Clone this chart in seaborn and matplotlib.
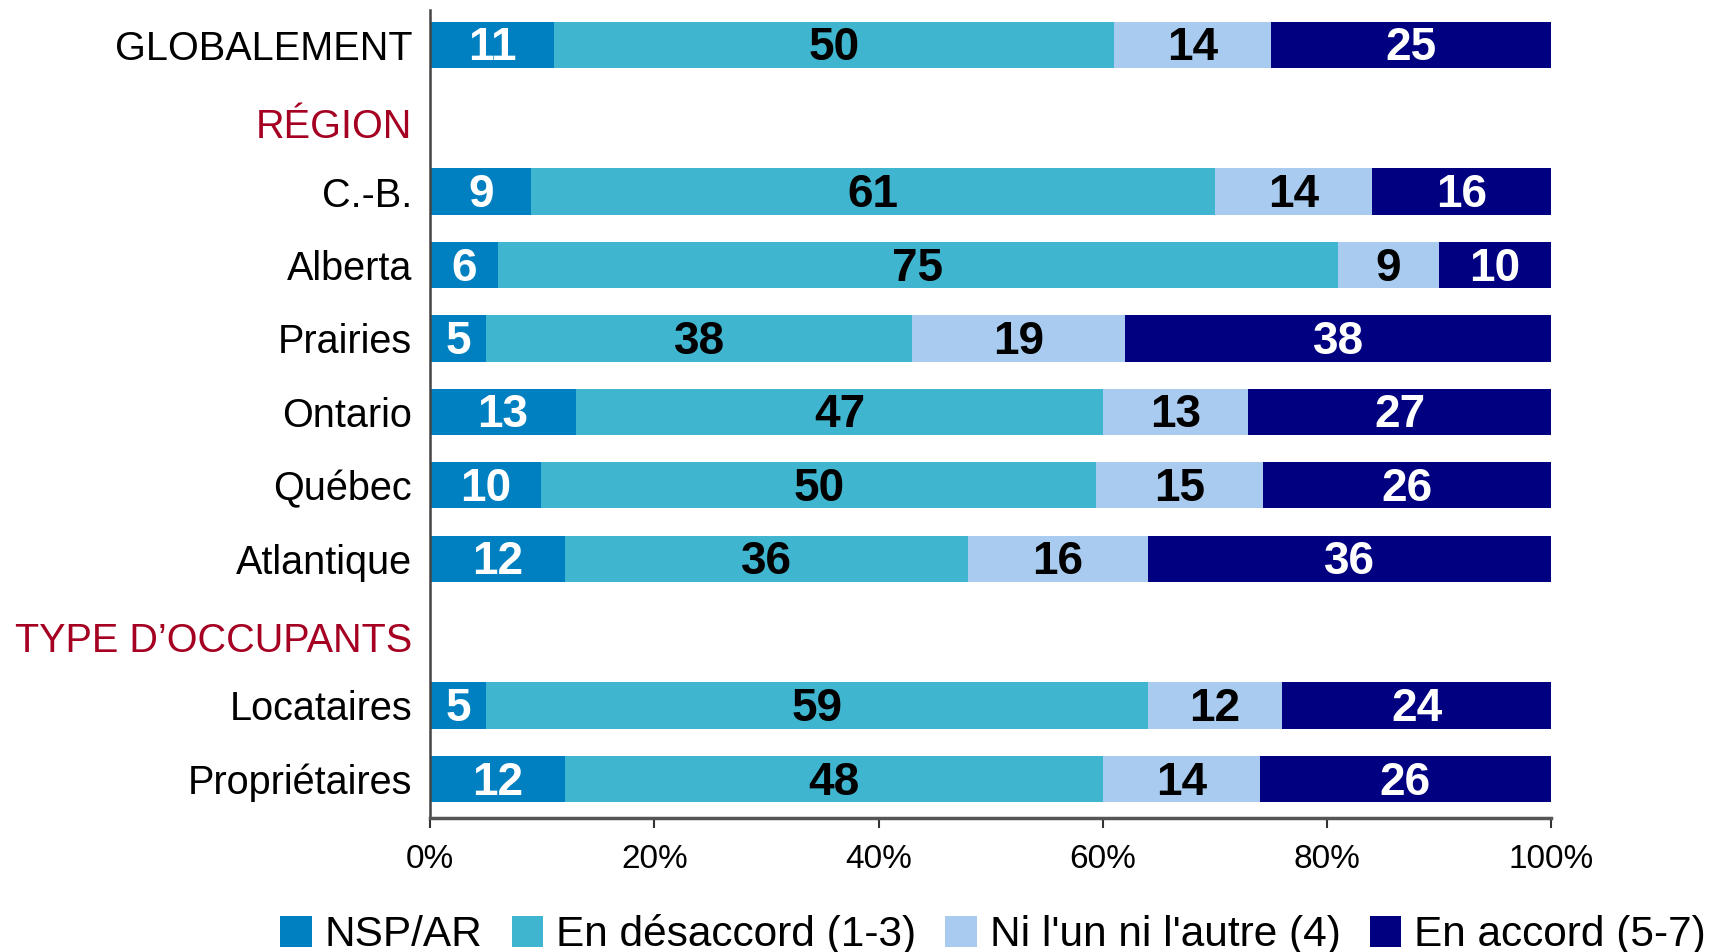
import numpy as np
import pandas as pd
import matplotlib.pyplot as plt
import matplotlib.transforms as mtransforms
import seaborn as sns
from matplotlib.patches import Patch

# rows of the chart (headers have no bar)
groups = ["GLOBALEMENT", "RÉGION", "C.-B.", "Alberta", "Prairies", "Ontario",
          "Québec", "Atlantique", "TYPE D\u2019OCCUPANTS", "Locataires", "Propriétaires"]
headers = ["RÉGION", "TYPE D\u2019OCCUPANTS"]

nsp = [11, np.nan, 9, 6, 5, 13, 10, 12, np.nan, 5, 12]
desaccord = [50, np.nan, 61, 75, 38, 47, 50, 36, np.nan, 59, 48]
ni = [14, np.nan, 14, 9, 19, 13, 15, 16, np.nan, 12, 14]
accord = [25, np.nan, 16, 10, 38, 27, 26, 36, np.nan, 24, 26]

series = ["NSP/AR", "En désaccord (1-3)", "Ni l'un ni l'autre (4)", "En accord (5-7)"]
colors = ["#0080C0", "#40B5CF", "#A8CBEF", "#000080"]
text_colors = ["white", "black", "black", "white"]

sns.set_style("white")
plt.rcParams["font.family"] = ["Liberation Sans", "DejaVu Sans"]
plt.rcParams["text.color"] = "black"
plt.rcParams["xtick.labelcolor"] = "black"
plt.rcParams["ytick.labelcolor"] = "black"

df = pd.DataFrame({"groupe": groups, series[0]: nsp, series[1]: desaccord,
                   series[2]: ni, series[3]: accord})
vals = df[series]
share = vals.div(vals.sum(axis=1), axis=0) * 100
cum = share.cumsum(axis=1)
for s in series:
    df["cum_" + s] = cum[s]

fig = plt.figure(figsize=(17.28, 9.52), dpi=100)
ax = fig.add_axes([0.249, 0.141, 0.6486, 0.849])

# stacked bars: draw the cumulative totals from the longest down
for k in reversed(range(len(series))):
    sns.barplot(data=df, x="cum_" + series[k], y="groupe", order=groups, orient="h",
                color=colors[k], saturation=1, width=0.63, errorbar=None,
                linewidth=0, ax=ax)

for i, g in enumerate(groups):
    if g in headers:
        continue
    left = 0
    for k, s in enumerate(series):
        w = share.loc[i, s]
        ax.text(left + w / 2, i + 0.05, str(int(vals.loc[i, s])), ha="center", va="center",
                color=text_colors[k], fontsize=33, fontweight="bold")
        left += w

ax.set_xlim(0, 100)
ax.set_ylim(10.53, -0.48)
ax.set_xticks([0, 20, 40, 60, 80, 100])
ax.set_xticklabels([f"{t}%" for t in [0, 20, 40, 60, 80, 100]], fontsize=24)
ax.set_xlabel("")
ax.set_ylabel("")
ax.tick_params(axis="y", length=0, pad=13, labelsize=28.5)
ax.tick_params(axis="x", length=7, width=1.5, color="#333333", pad=12, direction="out")
ax.xaxis.set_ticks_position("bottom")
shift = mtransforms.ScaledTranslation(0, -0.05, fig.dpi_scale_trans)
for lab in ax.get_yticklabels():
    if lab.get_text() in headers:
        lab.set_color("#A50021")
        lab.set_transform(lab.get_transform() + shift)

sns.despine(ax=ax, top=True, right=True)
ax.spines["left"].set_color("#444444")
ax.spines["left"].set_linewidth(1.8)
ax.spines["bottom"].set_color("#555555")
ax.spines["bottom"].set_linewidth(2.5)

handles = [Patch(facecolor=c, edgecolor="none") for c in colors]
fig.legend(handles, series, loc="lower right", bbox_to_anchor=(0.997, -0.021), ncol=4,
           frameon=False, fontsize=30.5, handlelength=0.74, handleheight=0.74,
           handletextpad=0.3, columnspacing=0.7, borderaxespad=0)

fig.savefig("out.png", dpi=100)
